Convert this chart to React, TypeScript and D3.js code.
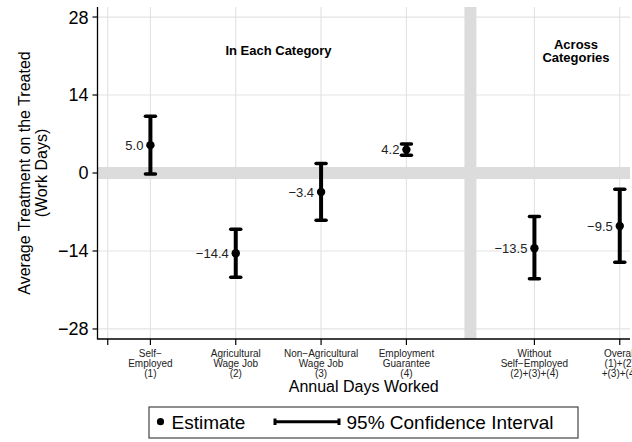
import React from "react";
import * as d3 from "d3";

// Estimates of the average treatment effect on the treated, with 95% CIs
const categories = [
  ["Self\u2212", "Employed", "(1)"],
  ["Agricultural", "Wage Job", "(2)"],
  ["Non\u2212Agricultural", "Wage Job", "(3)"],
  ["Employment", "Guarantee", "(4)"],
  ["Without", "Self\u2212Employed", "(2)+(3)+(4)"],
  ["Overall", "(1)+(2)", "+(3)+(4)"],
];
const positions = [1, 2, 3, 4, 5.5, 6.5];
const estimates = [5.0, -14.4, -3.4, 4.2, -13.5, -9.5];
const lower = [-0.2, -18.7, -8.5, 3.2, -19.0, -16.0];
const upper = [10.2, -10.1, 1.7, 5.2, -7.8, -2.9];
const yTicks = [28, 14, 0, -14, -28];
const blankTick = 0.5;
const separator = 4.75;

const W = 632;
const H = 442;
const FONT = "'Liberation Sans', Arial, Helvetica, sans-serif";

export default function App() {
  const x = d3.scaleLinear().domain([0.38, 6.62]).range([97.5, 630]);
  const y = d3.scaleLinear().domain([-29.8, 29.8]).range([339, 7]);
  const x0 = x.range()[0];
  const x1 = x.range()[1];
  const yTop = y.range()[1];
  const yBot = y.range()[0];
  const fmt = d3.format(".1f");
  const minus = (s: string) => s.replace("-", "\u2212");
  const grid = "#e3e3e3";
  const band = "#dcdcdc";
  const capHalf = 5;

  return (
    <div style={{ position: "fixed", left: 0, top: 0 }}>
      <svg width={W} height={H} style={{ display: "block", background: "#fff" }} fontFamily={FONT}>
        {/* grid */}
        {yTicks.filter((t) => t !== 0).map((t) => (
          <line key={"gy" + t} x1={x0} x2={x1} y1={y(t)} y2={y(t)} stroke={grid} strokeWidth={1.2} />
        ))}
        {[blankTick, ...positions].map((p) => (
          <line key={"gx" + p} x1={x(p)} x2={x(p)} y1={yTop} y2={yBot} stroke={grid} strokeWidth={1.2} />
        ))}
        {/* reference bands: zero line and section divider */}
        <rect x={x0} y={y(0) - 6} width={x1 - x0} height={12} fill={band} />
        <rect x={x(separator) - 6} y={yTop} width={12} height={yBot - yTop} fill={band} />

        {/* axes */}
        <line x1={x0} x2={x0} y1={yTop} y2={yBot + 0.5} stroke="#000" strokeWidth={1.3} />
        <line x1={x0} x2={x1} y1={yBot} y2={yBot} stroke="#000" strokeWidth={1.3} />
        {yTicks.map((t) => (
          <g key={"ty" + t}>
            <line x1={x0 - 5} x2={x0} y1={y(t)} y2={y(t)} stroke="#000" strokeWidth={1.2} />
            <text x={x0 - 9} y={y(t)} dy="0.36em" textAnchor="end" fontSize={18} fill="#000">
              {minus(String(t))}
            </text>
          </g>
        ))}
        {[blankTick, ...positions].map((p) => (
          <line key={"tx" + p} x1={x(p)} x2={x(p)} y1={yBot} y2={yBot + 6} stroke="#000" strokeWidth={1.2} />
        ))}
        {categories.map((lines, i) => (
          <text key={"cl" + i} x={x(positions[i])} textAnchor="middle" fontSize={10} fill="#222">
            {lines.map((l, j) => (
              <tspan key={j} x={x(positions[i])} y={357 + j * 10}>
                {l}
              </tspan>
            ))}
          </text>
        ))}

        {/* axis titles */}
        <text x={(x0 + x1) / 2} y={392} textAnchor="middle" fontSize={16} fill="#000">
          Annual Days Worked
        </text>
        <text transform={`translate(30,${(yTop + yBot) / 2}) rotate(-90)`} textAnchor="middle" fontSize={16} fill="#000">
          Average Treatment on the Treated
        </text>
        <text transform={`translate(47,${(yTop + yBot) / 2}) rotate(-90)`} textAnchor="middle" fontSize={16} fill="#000">
          (Work Days)
        </text>

        {/* section headings */}
        <text x={278.5} y={55} textAnchor="middle" fontSize={13} fontWeight="bold" fill="#000">
          In Each Category
        </text>
        <text x={576} y={49} textAnchor="middle" fontSize={13} fontWeight="bold" fill="#000">
          Across
        </text>
        <text x={576} y={61.5} textAnchor="middle" fontSize={13} fontWeight="bold" fill="#000">
          Categories
        </text>

        {/* estimates with confidence intervals */}
        {estimates.map((e, i) => {
          const cx = x(positions[i]);
          return (
            <g key={"est" + i}>
              <line x1={cx} x2={cx} y1={y(upper[i])} y2={y(lower[i])} stroke="#000" strokeWidth={4} />
              <line x1={cx - capHalf} x2={cx + capHalf} y1={y(upper[i])} y2={y(upper[i])} stroke="#000" strokeWidth={3.5} strokeLinecap="round" />
              <line x1={cx - capHalf} x2={cx + capHalf} y1={y(lower[i])} y2={y(lower[i])} stroke="#000" strokeWidth={3.5} strokeLinecap="round" />
              <circle cx={cx} cy={y(e)} r={4.2} fill="#000" />
              <text x={cx - 7} y={y(e)} dy="0.36em" textAnchor="end" fontSize={13} fill="#222">
                {minus(fmt(e))}
              </text>
            </g>
          );
        })}

        {/* legend */}
        <rect x={149} y={407} width={429} height={31} fill="#fff" stroke="#444" strokeWidth={1.2} />
        <circle cx={160.5} cy={421.7} r={3.6} fill="#000" />
        <text x={171.5} y={421.7} dy="0.36em" fontSize={19} fill="#000">
          Estimate
        </text>
        <line x1={275} x2={339} y1={421.7} y2={421.7} stroke="#000" strokeWidth={3} />
        <line x1={275} x2={275} y1={418.5} y2={425} stroke="#000" strokeWidth={3} />
        <line x1={339} x2={339} y1={418.5} y2={425} stroke="#000" strokeWidth={3} />
        <text x={346.5} y={421.7} dy="0.36em" fontSize={19} fill="#000">
          95% Confidence Interval
        </text>
      </svg>
    </div>
  );
}
